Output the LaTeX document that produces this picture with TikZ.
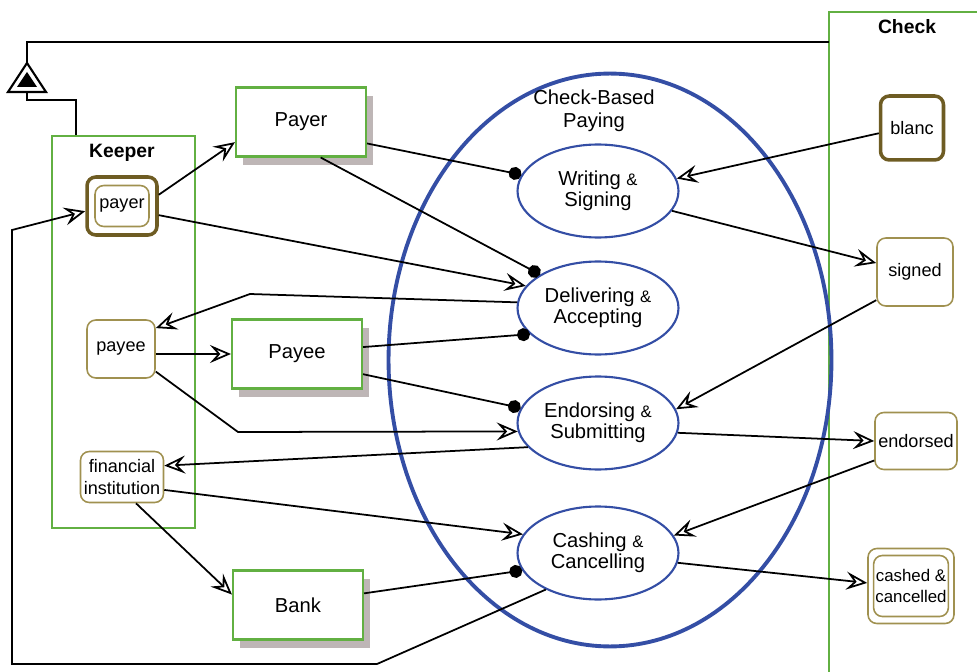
\documentclass[tikz,border=0pt]{standalone}
\usepackage{fontspec}
\setmainfont{Liberation Sans}
\usepackage{xcolor}
\usetikzlibrary{arrows.meta,shapes.geometric,shadows}
\definecolor{chkgreen}{RGB}{98,176,66}
\definecolor{chkblue}{RGB}{52,78,165}
\definecolor{chkolive}{RGB}{160,145,80}
\definecolor{chkdark}{RGB}{110,92,35}
\definecolor{chkshadow}{RGB}{190,182,182}
\tikzset{
    chkframe/.style={draw=chkgreen, line width=1.2pt, inner sep=0pt},
    chkrole/.style={draw=chkgreen, line width=1.2pt, fill=white, minimum width=2.6cm, minimum height=1.38cm, inner sep=0pt, font=\fontsize{11.5}{13}\selectfont,
        drop shadow={shadow xshift=0.14cm, shadow yshift=-0.17cm, fill=chkshadow, opacity=1}},
    chkact/.style={draw=chkblue, line width=1.2pt, ellipse, fill=white, align=center, minimum width=3.22cm, minimum height=1.86cm, inner sep=0pt, font=\fontsize{11.5}{12}\selectfont},
    chkstate/.style={draw=chkolive, line width=0.9pt, rounded corners=5pt, fill=white, align=center, inner sep=1pt, font=\fontsize{10.3}{12}\selectfont},
    chkfirst/.style={chkstate, draw=chkdark, line width=2pt},
    chktitle/.style={font=\fontsize{11}{13}\selectfont\bfseries},
    chkarrow/.style={draw, line width=1pt, -{Stealth[fill=white, length=4.2mm, width=3.6mm, inset=1.6mm]}},
    chklink/.style={draw, line width=1pt, -{Circle[length=2.6mm]}},
    chkline/.style={draw, line width=1.2pt}
}
\newcommand{\amp}{{\fontsize{9.5}{11}\selectfont\&}}

\begin{document}
\begin{tikzpicture}[x=0.02cm, y=-0.02cm]
    \useasboundingbox (0,0) rectangle (977,672);

    % frames
    \node[chkframe, minimum width=2.86cm, minimum height=7.84cm] (keeper) at (123.5,332) {};
    \node[chktitle] (keepertitle) at (122,153) {Keeper};
    \draw[chkgreen, line width=1.2pt] (977,12) -| (829,672);
    \node[chktitle] (checktitle) at (907,27) {Check};
    \coordinate (checkside) at (829,42);

    % generalization
    \coordinate (genapex) at (27,63);
    \coordinate (genbase) at (27,92);
    \draw[line width=1.2pt, fill=white] (8,92) -- (genapex) -- (46,92) -- cycle;
    \fill (17,87) -- (27,72) -- (37,87) -- cycle;
    \draw[chkline] (genapex) |- (checkside);
    \draw[chkline] ([xshift=0.5cm]keeper.north west) |- (27,100) -- (genbase);

    % keeper states
    \node[chkfirst, minimum width=1.4cm, minimum height=1.16cm] (payerbox) at (122,206) {};
    \node[chkstate, minimum width=1.08cm, minimum height=0.82cm] (payer) at (122,206) {payer};
    \node[chkstate, minimum width=1.36cm, minimum height=1.16cm] (payee) at (121,349) {payee};
    \node[chkstate, minimum width=1.66cm, minimum height=1.02cm] (finst) at (122,477) {financial\\institution};

    % roles
    \node[chkrole] (payerrole) at (301,122) {Payer};
    \node[chkrole] (payeerole) at (297,354) {Payee};
    \node[chkrole] (bankrole) at (298,605) {Bank};

    % activity
    \node[draw=chkblue, line width=2.2pt, ellipse, minimum width=8.86cm, minimum height=11.46cm] (cbp) at (610,360) {};
    \node[font=\fontsize{11.5}{13}\selectfont, align=center] (cbptitle) at (594,111) {Check-Based\\Paying};
    \node[chkact] (wrt) at (598,191) {Writing \amp\\Signing};
    \node[chkact] (dlv) at (598,308) {Delivering \amp\\Accepting};
    \node[chkact] (ends) at (598,423) {Endorsing \amp\\Submitting};
    \node[chkact] (csh) at (598,553) {Cashing \amp\\Cancelling};

    % check states
    \node[chkfirst, minimum width=1.26cm, minimum height=1.28cm] (blanc) at (912,128) {blanc};
    \node[chkstate, minimum width=1.52cm, minimum height=1.36cm] (signed) at (915,272) {signed};
    \node[chkstate, minimum width=1.64cm, minimum height=1.14cm] (endorsed) at (916,441) {endorsed};
    \node[chkstate, minimum width=1.72cm, minimum height=1.5cm] (cashedbox) at (911,586) {};
    \node[chkstate, minimum width=1.46cm, minimum height=1.22cm, font=\fontsize{9.6}{11.5}\selectfont] (cashed) at (911,586) {cashed \&\\cancelled};

    % connectors
    \draw[chkarrow] (payerbox.17) -- (payerrole.197);
    \draw[chklink] (payerrole.-18) -- (wrt.168);
    \draw[chklink] (payerrole.-61) -- (dlv.150);
    \draw[chkarrow] (payerbox.-14) -- (dlv.163);
    \draw[chkarrow] (dlv.176) -- (250,294) -- (payee.31);
    \draw[chkarrow] (payee.east |- payeerole) -- (payeerole.west);
    \draw[chklink] (payeerole.6) -- (dlv.201);
    \draw[chklink] (payeerole.-17) -- (ends.169);
    \draw[chkarrow] (payee.-33) -- (238,432) -- (ends.186);
    \draw[chkarrow] (ends.199) -- (finst.15);
    \draw[chkarrow] (finst.-17) -- (csh.166);
    \draw[chkarrow] (finst.-62) -- (bankrole.171);
    \draw[chklink] (bankrole.10) -- (csh.193);
    \draw[chkarrow] (csh.215) -- (377,664) -- (12,664) -- (12,230) -- (payerbox.188);
    \draw[chkarrow] (blanc.189) -- (wrt.9);
    \draw[chkarrow] (wrt.-15) -- (signed.167);
    \draw[chkarrow] (signed.216) -- (ends.10);
    \draw[chkarrow] (ends.-7) -- (endorsed.west);
    \draw[chkarrow] (endorsed.205) -- (csh.13);
    \draw[chkarrow] (csh.-7) -- (cashedbox.176);
\end{tikzpicture}
\end{document}
